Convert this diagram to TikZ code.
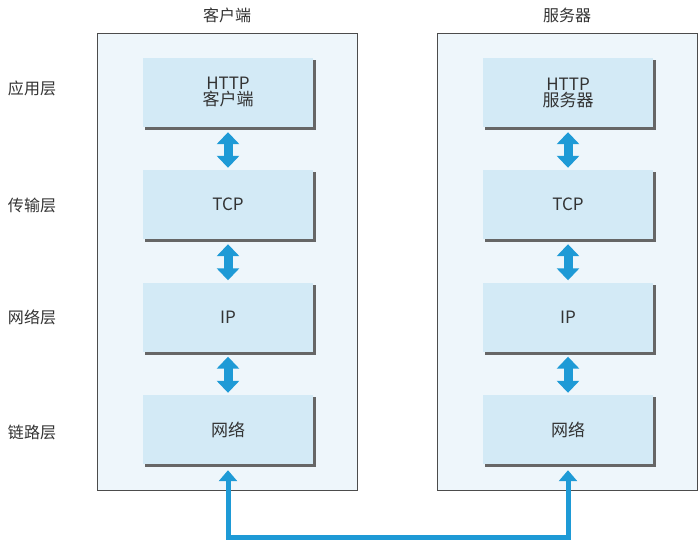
\documentclass[tikz,border=0pt]{standalone}
\usepackage{fontspec}
\setmainfont{Noto Sans CJK SC}
\usetikzlibrary{arrows.meta}
\definecolor{panelbg}{HTML}{EEF6FB}
\definecolor{boxbg}{HTML}{D3EAF6}
\definecolor{arr}{HTML}{1E9AD6}
\tikzset{
 panel/.style={draw=black!70,line width=0.8pt,fill=panelbg},
 layerbox/.style={fill=boxbg,minimum width=170pt,minimum height=69pt,inner sep=0pt,font=\fontsize{17}{20}\selectfont,align=center,text=black!80},
 dbl/.style={arr,line width=9pt,{Triangle[width=22pt,length=12pt]}-{Triangle[width=22pt,length=12pt]},shorten <=2pt,shorten >=2pt},
 lbl/.style={font=\fontsize{16}{19}\selectfont,text=black!80}
}
\begin{document}
\begin{tikzpicture}[x=1pt,y=-1pt]
\useasboundingbox[fill=white] (0,0) rectangle (700,545);
\draw[panel] (97,33) rectangle (357,490);
\draw[panel] (437,33) rectangle (697,490);
\node[lbl] (t1) at (227,15) {客户端};
\node[lbl] (t2) at (567,15) {服务器};
\node[lbl] (l1) at (32,88) {应用层};
\node[lbl] (l2) at (32,205) {传输层};
\node[lbl] (l3) at (32,317) {网络层};
\node[lbl] (l4) at (32,432) {链路层};
\foreach \s/\x in {a/228,b/568}{
 \foreach \n/\y in {1/92.5,2/204.5,3/317,4/429.5}{
  \draw[black!60,line width=3pt] (\x-85+2,\y+34.5+1.5) -- (\x+85+1.5,\y+34.5+1.5) -- (\x+85+1.5,\y-34.5+2);
 }
}
\node[layerbox] (a1) at (228,92.5) {HTTP\\[-4pt]客户端};
\node[layerbox] (a2) at (228,204.5) {TCP};
\node[layerbox] (a3) at (228,317) {IP};
\node[layerbox] (a4) at (228,429.5) {网络};
\node[layerbox] (b1) at (568,92.5) {HTTP\\[-4pt]服务器};
\node[layerbox] (b2) at (568,204.5) {TCP};
\node[layerbox] (b3) at (568,317) {IP};
\node[layerbox] (b4) at (568,429.5) {网络};
\foreach \s in {a,b}{
 \draw[dbl] ([yshift=-3pt]\s1.south) -- (\s2.north);
 \draw[dbl] ([yshift=-3pt]\s2.south) -- (\s3.north);
 \draw[dbl] ([yshift=-3pt]\s3.south) -- (\s4.north);
}
\coordinate (c1) at (228,537);
\coordinate (c2) at (568,537);
\draw[arr,line width=5pt,{Triangle[width=18pt,length=11pt]}-{Triangle[width=18pt,length=11pt]},line join=miter,shorten <=3pt,shorten >=3pt] ([yshift=-3pt]a4.south) -- (c1) -- (c2) -- ([yshift=-3pt]b4.south);
\end{tikzpicture}
\end{document}
